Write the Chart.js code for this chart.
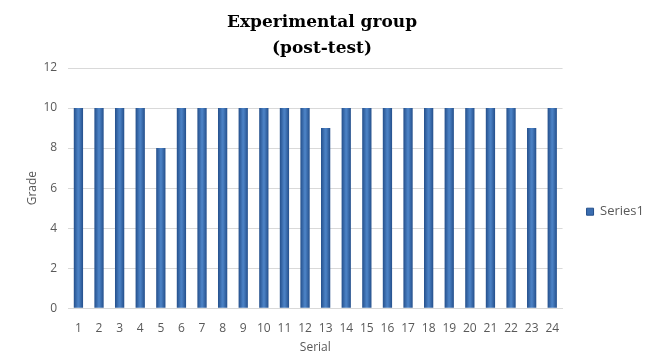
<!DOCTYPE html>
<html>
<head>
<meta charset="utf-8">
<script src="https://cdn.jsdelivr.net/npm/chart.js@4.4.1/dist/chart.umd.min.js"></script>
<style>
  html, body { margin: 0; padding: 0; background: #fff; }
  #wrap { position: relative; width: 657px; height: 363px; }
</style>
</head>
<body>
<div id="wrap"><canvas id="chart"></canvas></div>
<script>
  // data
  var serials = ["1", "2", "3", "4", "5", "6", "7", "8", "9", "10", "11", "12",
                 "13", "14", "15", "16", "17", "18", "19", "20", "21", "22", "23", "24"];
  var grades = [10, 10, 10, 10, 8, 10, 10, 10, 10, 10, 10, 10,
                9, 10, 10, 10, 10, 10, 10, 10, 10, 10, 9, 10];
  var seriesName = "Series1";
  var titleLines = ["Experimental group", "(post-test)"];

  var BAR_PCT = 0.9, CAT_PCT = 0.5;

  Chart.defaults.font.family = "'Open Sans', 'DejaVu Sans', sans-serif";
  Chart.defaults.color = '#595959';

  // excel-like shaded bars: dark edges, lighter middle
  function barShade(c) {
    var xs = c.chart.scales.x;
    if (!xs || c.dataIndex === undefined) return '#3a6db0';
    var mid = xs.getPixelForValue(c.dataIndex);
    var half = xs.width / serials.length * CAT_PCT * BAR_PCT / 2;
    if (!isFinite(mid) || !isFinite(half) || half <= 0) return '#3a6db0';
    var g = c.chart.ctx.createLinearGradient(mid - half, 0, mid + half, 0);
    g.addColorStop(0, '#244f8b');
    g.addColorStop(0.45, '#4a80c3');
    g.addColorStop(0.55, '#4a80c3');
    g.addColorStop(1, '#244f8b');
    return g;
  }

  new Chart('chart', {
    type: 'bar',
    data: {
      labels: serials,
      datasets: [{
        label: seriesName,
        data: grades,
        backgroundColor: barShade,
        borderWidth: 0,
        barPercentage: BAR_PCT,
        categoryPercentage: CAT_PCT
      }]
    },
    options: {
      responsive: true,
      maintainAspectRatio: false,
      animation: false,
      // negative left padding balanced by the y title padding, so the main title sits like the original
      layout: { padding: { left: -10, right: 3, top: 6, bottom: 8 } },
      scales: {
        y: {
          min: 0,
          max: 12,
          ticks: { stepSize: 2, font: { size: 12 }, padding: 11 },
          grid: { color: '#d9d9d9', drawTicks: false, tickLength: 0 },
          border: { display: false },
          title: { display: true, text: 'Grade', font: { size: 12 }, padding: { top: 35, bottom: -7 } }
        },
        x: {
          ticks: { font: { size: 12 }, padding: 5, maxRotation: 0 },
          grid: { display: false },
          border: { color: '#d9d9d9' },
          title: { display: true, text: 'Serial', font: { size: 12 }, padding: { top: 0, bottom: 0 } }
        }
      },
      plugins: {
        title: {
          display: true,
          text: titleLines,
          color: '#000',
          font: { family: "'DejaVu Serif', serif", size: 17, weight: 'bold', lineHeight: 1.5 },
          padding: { top: 4, bottom: 7 }
        },
        legend: {
          position: 'right',
          title: { display: true, text: ' ', font: { size: 12 }, padding: { top: 24, bottom: 24 } },
          labels: {
            boxWidth: 7, boxHeight: 7, padding: 24, font: { size: 13 },
            generateLabels: function (chart) {
              var items = Chart.defaults.plugins.legend.labels.generateLabels(chart);
              items.forEach(function (it) { it.fillStyle = '#3a6db0'; it.strokeStyle = '#244f8b'; it.lineWidth = 1; });
              return items;
            }
          }
        },
        tooltip: { enabled: false }
      }
    }
  });
</script>
</body>
</html>
